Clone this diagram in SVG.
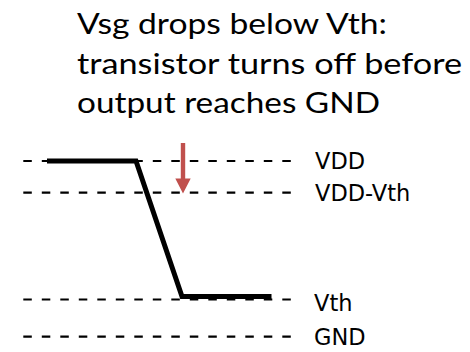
<svg xmlns="http://www.w3.org/2000/svg" width="470" height="352" viewBox="0 0 470 352">
  <style>
    .title { font-family: Lato, "Open Sans", "Liberation Sans", sans-serif; font-size: 28.5px; fill: #000; }
    .lbl { font-family: "DejaVu Sans", "Liberation Sans", sans-serif; font-size: 22.5px; fill: #000; }
    .dash { stroke: #000; stroke-width: 2.2; stroke-dasharray: 8.5 10; fill: none; }
    .wave { stroke: #000; stroke-width: 5; fill: none; stroke-linejoin: miter; stroke-linecap: butt; }
    .arrow { fill: #C0504D; }
  </style>
  <rect width="470" height="352" fill="#fff"/>
  <g id="title">
    <text class="title" x="77" y="34" textLength="310" lengthAdjust="spacingAndGlyphs">Vsg drops below Vth:</text>
    <text class="title" x="77" y="73.5" textLength="385" lengthAdjust="spacingAndGlyphs">transistor turns off before</text>
    <text class="title" x="77" y="113" textLength="303" lengthAdjust="spacingAndGlyphs">output reaches GND</text>
  </g>
  <g id="levels">
    <g id="level-vdd">
      <line class="dash" x1="23.3" y1="161" x2="296" y2="161"/>
      <text class="lbl" x="315" y="169">VDD</text>
    </g>
    <g id="level-vdd-vth">
      <line class="dash" x1="23.3" y1="192.7" x2="296" y2="192.7"/>
      <text class="lbl" x="315" y="200.5">VDD-Vth</text>
    </g>
    <g id="level-vth">
      <line class="dash" x1="23.3" y1="299.5" x2="296" y2="299.5"/>
      <text class="lbl" x="314" y="311">Vth</text>
    </g>
    <g id="level-gnd">
      <line class="dash" x1="23.3" y1="336.7" x2="296" y2="336.7"/>
      <text class="lbl" x="314" y="345">GND</text>
    </g>
  </g>
  <g id="connectors">
    <polyline id="waveform" class="wave" points="47,161 136,161 182,296.5 271.5,296.5"/>
    <path id="drop-arrow" class="arrow" d="M180.8,143 H185.2 V178.5 H190.7 L183,193.5 L175.3,178.5 H180.8 Z"/>
  </g>
</svg>
